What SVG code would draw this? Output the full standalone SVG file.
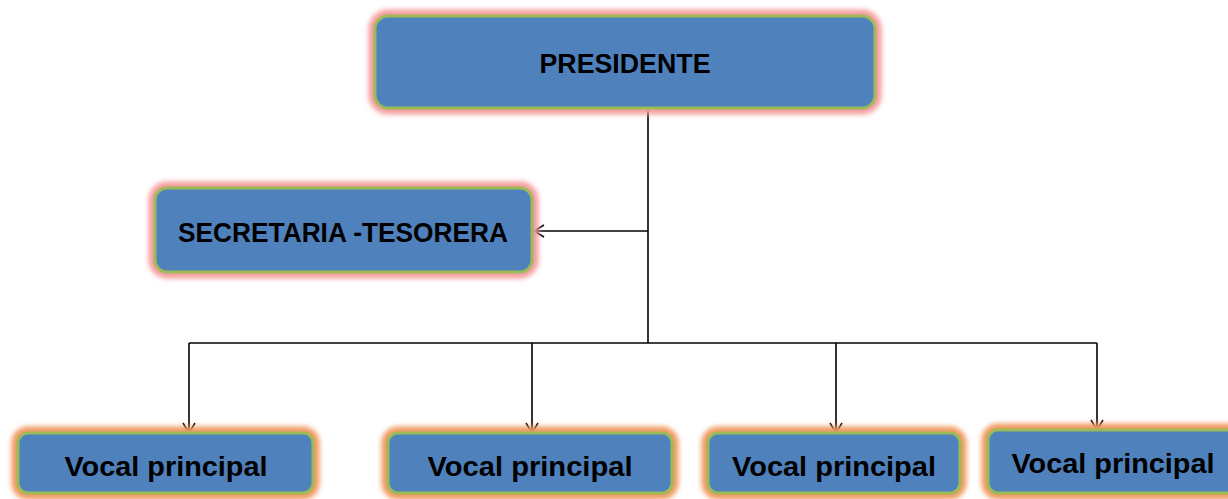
<svg xmlns="http://www.w3.org/2000/svg" width="1228" height="499" viewBox="0 0 1228 499">
<defs>
<filter id="blur" x="-10%" y="-30%" width="120%" height="160%"><feGaussianBlur stdDeviation="2.5"/></filter>
<marker id="arr" markerWidth="16" markerHeight="16" refX="12" refY="7" orient="auto" markerUnits="userSpaceOnUse">
<path d="M2,1 L12,7 L2,13" fill="none" stroke="#000" stroke-width="1.5"/>
</marker>
<style>
.box{fill:#4f81bd;stroke:#9bbb59;stroke-width:3}
.gp{fill:none;stroke:#f59c9c;stroke-width:13;filter:url(#blur)}
.go{fill:none;stroke:#f09a60;stroke-width:13;filter:url(#blur)}
.t{font-family:"Liberation Sans",Arial,sans-serif;font-weight:bold;font-size:27px;fill:#000;text-anchor:middle}
.c{fill:none;stroke:#000;stroke-width:1.6}
</style>
</defs>
<g id="connectors">
<path class="c" d="M648,108 V343"/>
<path class="c" d="M648,231 H534" marker-end="url(#arr)"/>
<path class="c" d="M189,343 H1097"/>
<path class="c" d="M189,343 V433" marker-end="url(#arr)"/>
<path class="c" d="M532,343 V433" marker-end="url(#arr)"/>
<path class="c" d="M836,343 V433" marker-end="url(#arr)"/>
<path class="c" d="M1097,343 V430" marker-end="url(#arr)"/>
</g>
<g id="presidente">
<rect class="gp" x="375" y="16" width="500" height="92" rx="13"/>
<rect class="box" x="375" y="16" width="500" height="92" rx="13"/>
<text class="t" x="625" y="73" textLength="171" lengthAdjust="spacingAndGlyphs">PRESIDENTE</text>
</g>
<g id="secretaria">
<rect class="gp" x="155" y="188" width="377" height="84" rx="12"/>
<rect class="box" x="155" y="188" width="377" height="84" rx="12"/>
<text class="t" x="343" y="242" textLength="330" lengthAdjust="spacingAndGlyphs">SECRETARIA -TESORERA</text>
</g>
<g id="vocal1">
<rect class="go" x="18" y="433" width="295" height="60" rx="10"/>
<rect class="box" x="18" y="433" width="295" height="60" rx="10"/>
<text class="t" x="166" y="476" textLength="203" lengthAdjust="spacingAndGlyphs">Vocal principal</text>
</g>
<g id="vocal2">
<rect class="go" x="388" y="433" width="284" height="60" rx="10"/>
<rect class="box" x="388" y="433" width="284" height="60" rx="10"/>
<text class="t" x="530" y="476" textLength="205" lengthAdjust="spacingAndGlyphs">Vocal principal</text>
</g>
<g id="vocal3">
<rect class="go" x="708" y="433" width="252" height="60" rx="10"/>
<rect class="box" x="708" y="433" width="252" height="60" rx="10"/>
<text class="t" x="834" y="476" textLength="204" lengthAdjust="spacingAndGlyphs">Vocal principal</text>
</g>
<g id="vocal4">
<rect class="go" x="988" y="430" width="260" height="63" rx="10"/>
<rect class="box" x="988" y="430" width="260" height="63" rx="10"/>
<text class="t" x="1113" y="473" textLength="203" lengthAdjust="spacingAndGlyphs">Vocal principal</text>
</g>
</svg>
